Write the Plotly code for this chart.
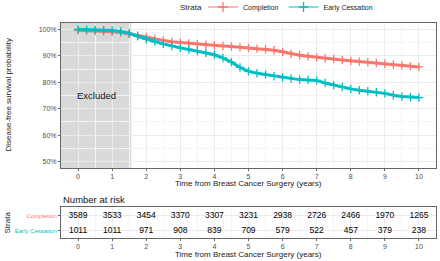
import plotly.graph_objects as go

# ---- data ----
time_grid = [0, 0.25, 0.5, 0.75, 1.0, 1.25, 1.5, 1.75, 2.0, 2.25, 2.5, 2.75, 3.0, 3.25, 3.5, 3.75,
             4.0, 4.25, 4.5, 4.75, 5.0, 5.25, 5.5, 5.75, 6.0, 6.25, 6.5, 6.75, 7.0, 7.25, 7.5, 7.75,
             8.0, 8.25, 8.5, 8.75, 9.0, 9.25, 9.5, 9.75, 10.0]
comp_s = [99.6, 99.5, 99.4, 99.3, 99.1, 98.8, 98.3, 97.7, 97.1, 96.4, 95.8, 95.3, 95.0, 94.7, 94.5, 94.2,
          94.0, 93.7, 93.5, 93.2, 93.0, 92.7, 92.5, 92.1, 91.5, 90.8, 90.2, 89.8, 89.4, 89.1, 88.8, 88.4,
          88.1, 87.8, 87.6, 87.3, 87.0, 86.7, 86.4, 86.1, 85.8]
early_s = [100.0, 99.9, 99.8, 99.7, 99.6, 99.2, 98.5, 97.4, 96.3, 95.4, 94.5, 93.7, 93.0, 92.4, 91.8, 91.1,
           90.4, 89.2, 87.6, 85.6, 84.1, 83.4, 82.9, 82.3, 81.8, 81.4, 81.0, 80.9, 80.7, 79.7, 78.9, 78.2,
           77.5, 77.0, 76.6, 76.2, 75.8, 75.1, 74.6, 74.4, 74.2]
risk_times = [0, 1, 2, 3, 4, 5, 6, 7, 8, 9, 10]
risk_comp = [3589, 3533, 3454, 3370, 3307, 3231, 2938, 2726, 2466, 1970, 1265]
risk_early = [1011, 1011, 971, 908, 839, 709, 579, 522, 457, 379, 238]
y_ticks = [50, 60, 70, 80, 90, 100]
y_tick_labels = ["50%", "60%", "70%", "80%", "90%", "100%"]
excluded_end = 1.56

RED = "#F8766D"
TEAL = "#00BFC4"
W, H = 440, 261
FONT = "Liberation Sans, Arial, sans-serif"

fig = go.Figure()

for name, s, col in [("Completion", comp_s, RED), ("Early Cessation", early_s, TEAL)]:
    fig.add_trace(go.Scatter(
        x=time_grid, y=s, name=name, mode="lines+markers", showlegend=False,
        line=dict(color=col, width=3),
        marker=dict(symbol="cross-thin", size=6, line=dict(color=col, width=1.3), color=col),
        xaxis="x", yaxis="y", hoverinfo="skip"))
    # legend-only entry
    fig.add_trace(go.Scatter(
        x=[None], y=[None], name=name, mode="lines+markers",
        line=dict(color=col, width=1),
        marker=dict(symbol="cross-thin", size=7, line=dict(color=col, width=1.3), color=col),
        xaxis="x", yaxis="y"))

# risk table
fig.add_trace(go.Scatter(x=risk_times, y=[2] * len(risk_times), mode="text",
                         text=[str(v) for v in risk_comp], textfont=dict(size=8.5, color="black"),
                         showlegend=False, xaxis="x2", yaxis="y2", hoverinfo="skip"))
fig.add_trace(go.Scatter(x=risk_times, y=[1] * len(risk_times), mode="text",
                         text=[str(v) for v in risk_early], textfont=dict(size=8.5, color="black"),
                         showlegend=False, xaxis="x2", yaxis="y2", hoverinfo="skip"))

xdom = [61 / W, 436 / W]
ax_common = dict(showline=True, linecolor="#666", linewidth=1, mirror=True,
                 ticks="outside", ticklen=2, tickcolor="#666",
                 tickfont=dict(size=7, color="#4d4d4d"),
                 showgrid=True, gridcolor="#ebebeb", gridwidth=0.8, zeroline=False,
                 automargin=False)


def txt(text, px, py, size=8, angle=0, xanchor="center", color="#222"):
    return dict(text=text, x=px / W, y=1 - py / H, xref="paper", yref="paper",
                xanchor=xanchor, yanchor="middle", showarrow=False, textangle=angle,
                font=dict(size=size, color=color))


fig.update_layout(
    width=W, height=H, margin=dict(l=0, r=0, t=0, b=0, autoexpand=False),
    paper_bgcolor="white", plot_bgcolor="white",
    font=dict(family=FONT, color="#222"),
    xaxis=dict(domain=xdom, range=[-0.5, 10.5], tickvals=risk_times, anchor="y",
               minor=dict(dtick=0.5, tick0=0, showgrid=True, gridcolor="#f5f5f5", ticks=""),
               **ax_common),
    yaxis=dict(domain=[1 - 168 / H, 1 - 23 / H], range=[47.6, 102.4], tickvals=y_ticks,
               ticktext=y_tick_labels, anchor="x",
               minor=dict(dtick=5, tick0=0, showgrid=True, gridcolor="#f5f5f5", ticks=""),
               **ax_common),
    xaxis2=dict(domain=xdom, range=[-0.5, 10.5], tickvals=risk_times, anchor="y2",
                minor=dict(dtick=0.5, tick0=0, showgrid=True, gridcolor="#f5f5f5", ticks=""),
                **ax_common),
    yaxis2=dict(domain=[1 - 238 / H, 1 - 207 / H], range=[0.5, 2.6], tickvals=[2, 1],
                ticktext=[f'<span style="color:{RED}">Completion</span>',
                          f'<span style="color:{TEAL}">Early Cessation</span>'],
                anchor="x2",
                **{**ax_common, "tickfont": dict(size=6)}),
    legend=dict(orientation="h", x=203 / W, xanchor="left", y=1 - 7 / H, yanchor="middle",
                font=dict(size=7, color="#222"), bgcolor="rgba(0,0,0,0)",
                itemwidth=30, tracegroupgap=0, valign="middle"),
    shapes=[dict(type="rect", xref="x", yref="paper", x0=-0.5, x1=excluded_end,
                 y0=1 - 168 / H, y1=1 - 23 / H, fillcolor="#d9d9d9",
                 line=dict(width=0), layer="between")],
    annotations=[
        dict(text="Excluded", x=0.53, y=75, xref="x", yref="y", showarrow=False,
             xanchor="center", yanchor="middle", font=dict(size=9.5, color="#111")),
        txt("Strata", 191, 7, size=8),
        txt("Disease-free survival probability", 8, 95.5, angle=-90),
        txt("Time from Breast Cancer Surgery (years)", 248.5, 183.5),
        txt("Time from Breast Cancer Surgery (years)", 248.5, 254.5),
        txt("Number at risk", 61, 199, size=9.5, xanchor="left", color="#111"),
        txt("Strata", 7, 222.5, angle=-90),
    ],
)

fig.write_html("out.html", config={"displayModeBar": False},
               post_script="document.body.style.margin='0';document.body.style.overflow='hidden';")
